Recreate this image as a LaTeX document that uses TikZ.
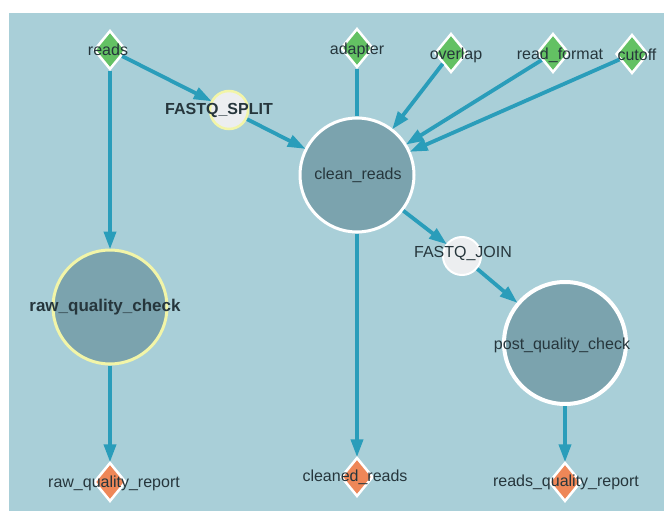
\documentclass[tikz,border=0pt]{standalone}
\usepackage{fontspec}
\setmainfont{Liberation Sans}
\usetikzlibrary{shapes.geometric,arrows.meta}
\definecolor{bgc}{HTML}{A9CFD8}
\definecolor{edgec}{HTML}{2A9DBA}
\definecolor{bigc}{HTML}{7BA3AE}
\definecolor{greenc}{HTML}{63C163}
\definecolor{orangec}{HTML}{EE8758}
\definecolor{smallc}{HTML}{ECEEF0}
\definecolor{yelc}{HTML}{F2F5A8}
\definecolor{txtc}{HTML}{26363C}
\tikzset{
  lbl/.style={font=\fontsize{16}{18}\selectfont, text=txtc, inner sep=0pt},
  dmd/.style={diamond, draw=white, line width=2.5pt, inner sep=0pt, minimum width=32pt, minimum height=39pt},
  indmd/.style={dmd, fill=greenc},
  outdmd/.style={dmd, fill=orangec},
  bigcirc/.style={circle, draw=white, line width=3pt, fill=bigc, inner sep=0pt},
  smallcirc/.style={circle, draw=white, line width=2pt, fill=smallc, inner sep=0pt, minimum size=38pt},
  conn/.style={draw=edgec, line width=3.8pt, -{Triangle[length=18pt,width=12pt]}, shorten >=-1pt},
  plain/.style={draw=edgec, line width=3.8pt}
}
\begin{document}
\begin{tikzpicture}[x=1pt,y=-1pt]
\useasboundingbox (0,0) rectangle (664,516);
\fill[white] (0,0) rectangle (664,516);
\fill[bgc] (9,13) rectangle (664,511);

% nodes
\node[indmd] (reads) at (110,50) {};
\node[indmd] (adapter) at (357,48) {};
\node[indmd] (overlap) at (451,53) {};
\node[indmd] (readfmt) at (553,53) {};
\node[indmd] (cutoff) at (632,54) {};
\node[smallcirc, draw=yelc, line width=2.5pt] (split) at (229,110) {};
\node[bigcirc, minimum size=114pt] (clean) at (357,175) {};
\node[smallcirc] (join) at (462,256) {};
\node[bigcirc, draw=yelc, minimum size=114pt] (raw) at (110,307) {};
\node[bigcirc, line width=4pt, minimum size=122pt] (post) at (565,343) {};
\node[outdmd] (rawrep) at (110,482) {};
\node[outdmd] (cleaned) at (357,477) {};
\node[outdmd] (readsrep) at (565,482) {};

% edges
\draw[conn] (reads) -- (split);
\draw[conn] (reads) -- (raw);
\draw[conn] (split) -- (clean);
\draw[plain] (adapter) -- (clean);
\draw[conn] (overlap) -- (clean);
\draw[conn] (readfmt) -- (clean);
\draw[conn] (cutoff) -- (clean);
\draw[conn] (clean) -- (join);
\draw[conn] (join) -- (post);
\draw[conn] (clean) -- (cleaned);
\draw[conn] (raw) -- (rawrep);
\draw[conn] (post) -- (readsrep);

% labels
\node[lbl] (treads) at (108,50) {reads};
\node[lbl] (tadapter) at (357,50) {adapter};
\node[lbl] (toverlap) at (456,55) {overlap};
\node[lbl] (treadfmt) at (560,55) {read\_format};
\node[lbl] (tcutoff) at (637,55) {cutoff};
\node[lbl, font=\fontsize{16}{18}\selectfont\bfseries] (tsplit) at (219,110) {FASTQ\_SPLIT};
\node[lbl] (tclean) at (358,175) {clean\_reads};
\node[lbl] (tjoin) at (463,254) {FASTQ\_JOIN};
\node[lbl, font=\fontsize{17}{19}\selectfont\bfseries] (traw) at (105,307) {raw\_quality\_check};
\node[lbl] (tpost) at (562,345) {post\_quality\_check};
\node[lbl] (trawrep) at (114,483) {raw\_quality\_report};
\node[lbl] (tcleaned) at (355,477) {cleaned\_reads};
\node[lbl] (treadsrep) at (566,482) {reads\_quality\_report};
\end{tikzpicture}
\end{document}
